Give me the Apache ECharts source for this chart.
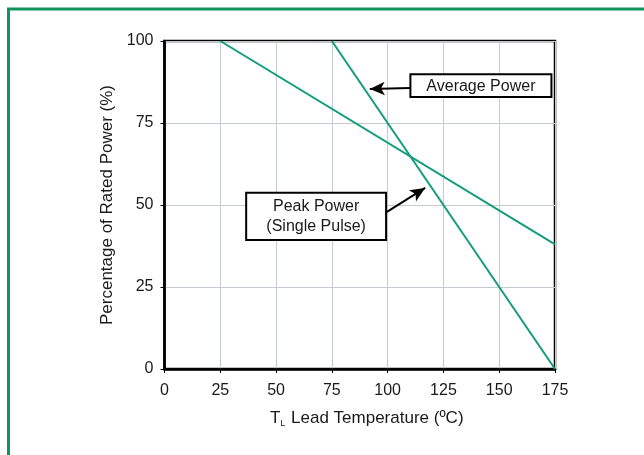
<!DOCTYPE html>
<html>
<head>
<meta charset="utf-8">
<script src="https://cdn.jsdelivr.net/npm/echarts@6/dist/echarts.min.js"></script>
<style>html,body{margin:0;padding:0;background:#fff}#c{width:644px;height:455px}</style>
</head>
<body>
<div id="c"></div>
<script>
// Data
const xTicks = [0, 25, 50, 75, 100, 125, 150, 175];
const yTicks = [0, 25, 50, 75, 100];
const peakPower = [[25, 100], [175, 38]];      // Peak Power (Single Pulse)
const averagePower = [[75, 100], [175, 0]];    // Average Power
// Annotations (data coordinates)
const avgArrow = [[110, 85.7], [92, 85.4]];
const peakArrow = [[99.7, 47.9], [116.8, 55.2]];
const avgLabel = 'Average Power';
const peakLabel = 'Peak Power\n(Single Pulse)';

const green = '#119c7c';
const chart = echarts.init(document.getElementById('c'));
const font = 'Liberation Sans, Arial, sans-serif';

function arrowLine(pts) {
  return {
    symbol: ['none', 'arrow'],
    symbolSize: [10, 15],
    silent: true,
    label: { show: false },
    lineStyle: { color: '#000', width: 2, type: 'solid' },
    data: [[{ coord: pts[0] }, { coord: pts[1] }]],
    animation: false
  };
}

chart.setOption({
  animation: false,
  backgroundColor: '#fff',
  grid: { left: 164.5, top: 41, right: 89, bottom: 86, show: true, borderColor: '#000', borderWidth: 2.5, backgroundColor: 'transparent' },
  xAxis: {
    type: 'value', min: 0, max: 175, interval: 25,
    axisLine: { show: true, onZero: false, lineStyle: { color: '#000', width: 2.5 } },
    axisTick: { show: true, length: 4, lineStyle: { color: '#000', width: 1 } },
    axisLabel: { color: '#1a1a1a', fontSize: 16, fontFamily: font, margin: 14,
      formatter: v => xTicks.includes(v) ? String(v) : '' },
    splitLine: { show: true, lineStyle: { color: '#c6cad2', width: 1 } },
    name: 'T{sub|L} Lead Temperature (ºC)',
    nameLocation: 'middle', nameGap: 40,
    nameTextStyle: { color: '#1a1a1a', fontSize: 17, fontFamily: font, padding: [0, 0, 0, 14],
      rich: { sub: { fontSize: 9, verticalAlign: 'bottom', padding: [10, 1, 0, 0], fontFamily: font, color: '#1a1a1a' } } }
  },
  yAxis: {
    type: 'value', min: 0, max: 100, interval: 25,
    axisLine: { show: true, onZero: false, lineStyle: { color: '#000', width: 2.5 } },
    axisTick: { show: true, length: 4, lineStyle: { color: '#000', width: 1 } },
    axisLabel: { color: '#1a1a1a', fontSize: 16, fontFamily: font, margin: 11,
      formatter: v => yTicks.includes(v) ? String(v) : '' },
    splitLine: { show: true, lineStyle: { color: '#c6cad2', width: 1 } },
    name: 'Percentage of Rated Power (%)',
    nameLocation: 'middle', nameGap: 42, nameRotate: 90,
    nameTextStyle: { color: '#1a1a1a', fontSize: 17, fontFamily: font }
  },
  series: [
    { name: 'Peak Power', type: 'line', data: peakPower, symbol: 'none',
      lineStyle: { color: green, width: 2 }, markLine: arrowLine(peakArrow) },
    { name: 'Average Power', type: 'line', data: averagePower, symbol: 'none',
      lineStyle: { color: green, width: 2 }, markLine: arrowLine(avgArrow) }
  ]
});

// Annotation boxes positioned from data coordinates
function box(textStr, x0, y0, x1, y1) {
  const a = chart.convertToPixel({ gridIndex: 0 }, [x0, y0]);
  const b = chart.convertToPixel({ gridIndex: 0 }, [x1, y1]);
  return [
    { type: 'rect', shape: { x: a[0], y: a[1], width: b[0] - a[0], height: b[1] - a[1] },
      style: { fill: '#fff', stroke: '#000', lineWidth: 2 }, z: 100 },
    { type: 'text', x: (a[0] + b[0]) / 2, y: (a[1] + b[1]) / 2 + 0.5,
      style: { text: textStr, fill: '#1a1a1a', font: '16px ' + font, align: 'center', verticalAlign: 'middle', lineHeight: 20 }, z: 101 }
  ];
}
// boxes in data coords: [x0,yTop] to [x1,yBottom]
const avgBox = [110.2, 89.9, 173.4, 82.9];
const peakBox = [36.6, 53.7, 99.3, 39.3];
chart.setOption({
  graphic: [
    { type: 'rect', shape: { x: 8.5, y: 9, width: 700, height: 500 }, style: { fill: 'none', stroke: '#10935f', lineWidth: 3 }, z: 0 },
    ...box(avgLabel, ...avgBox),
    ...box(peakLabel, ...peakBox)
  ]
});
</script>
</body>
</html>
